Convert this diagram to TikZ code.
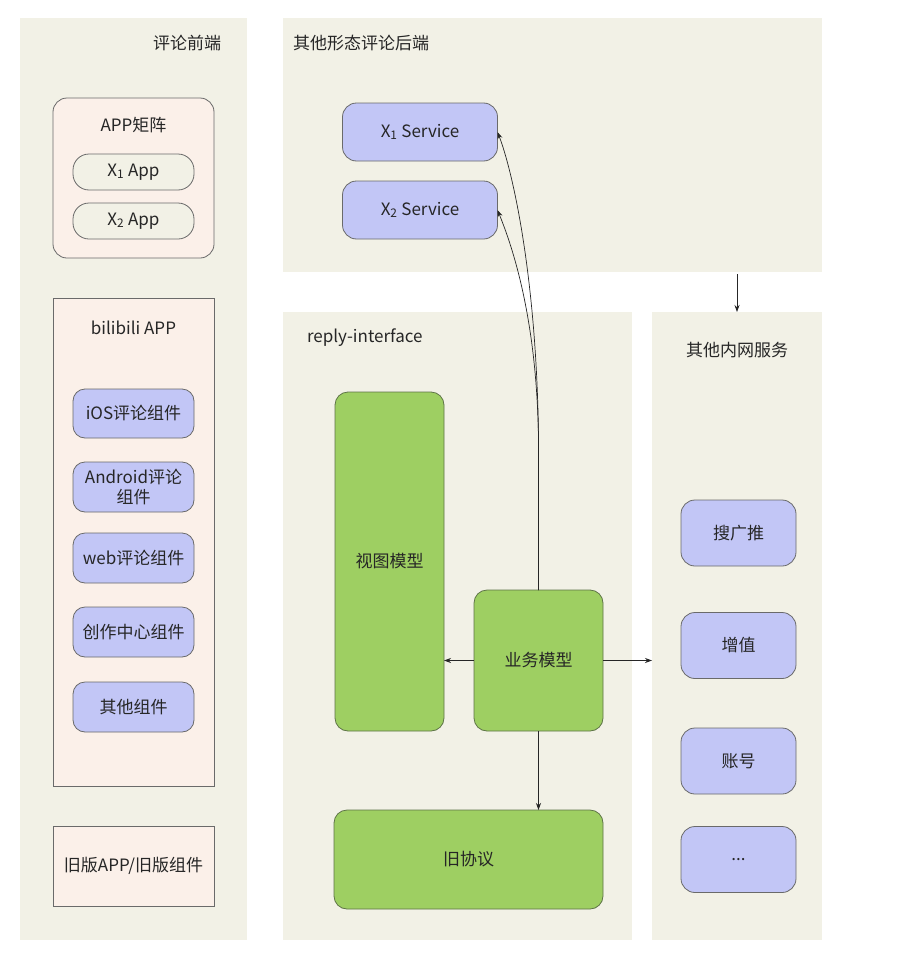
\documentclass[tikz,border=0pt]{standalone}
\usepackage{fontspec}
\setmainfont{Noto Sans CJK SC}
\usetikzlibrary{arrows.meta,calc}

\definecolor{panelbg}{HTML}{F2F1E6}
\definecolor{pinkbg}{HTML}{FBF0E9}
\definecolor{lav}{HTML}{C2C6F6}
\definecolor{grn}{HTML}{9ECF62}
\definecolor{edge}{HTML}{6A6A6A}
\definecolor{gedge}{HTML}{5E7447}
\definecolor{ink}{HTML}{262626}

\begin{document}
\begin{tikzpicture}[x=1pt,y=-1pt,
  every node/.style={text=ink, font=\fontsize{17}{21}\selectfont, inner sep=0pt, outer sep=0pt},
  panel/.style={fill=panelbg, draw=none, rectangle},
  group/.style={fill=pinkbg, draw=edge, line width=0.8pt, rectangle},
  pill/.style={fill=panelbg, draw=edge, line width=0.8pt, rounded corners=16pt,
               minimum width=121, minimum height=36},
  comp/.style={fill=lav, draw=edge, line width=0.8pt, rounded corners=12pt, align=center},
  mod/.style={fill=grn, draw=gedge, line width=0.8pt, rounded corners=13pt},
  link/.style={draw=ink, line width=0.7pt, -{Stealth[length=7pt,width=5pt]}}]

% canvas
\fill[white] (0,0) rectangle (910,953);
\useasboundingbox (0,0) rectangle (910,953);

% background panels
\node[panel, minimum width=227, minimum height=922] (lp) at (133.5,479) {};
\node[panel, minimum width=539, minimum height=254] (tp) at (552.5,145) {};
\node[panel, minimum width=349, minimum height=628] (ri) at (457.5,626) {};
\node[panel, minimum width=170, minimum height=628] (rp) at (737,626) {};

% panel titles
\node (tlp) at (187,43) {评论前端};
\node[anchor=west] (ttp) at (293,43) {其他形态评论后端};
\node[anchor=west] (tri) at (307,338) {reply-interface};
\node (trp) at (737,350) {其他内网服务};

% front end: APP matrix
\node[group, rounded corners=14pt, minimum width=161, minimum height=160] (appm) at (133.5,178) {};
\node (appmt) at (133.5,125) {APP矩阵};
\node[pill] (x1app) at (133.5,172) {X\textsubscript{1} App};
\node[pill] (x2app) at (133.5,221) {X\textsubscript{2} App};

% front end: bilibili APP
\node[group, minimum width=161, minimum height=488] (bili) at (133.5,542) {};
\node (bilit) at (133.5,328) {bilibili APP};
\node[comp, minimum width=121, minimum height=49] (ios) at (133.5,413.5) {iOS评论组件};
\node[comp, minimum width=121, minimum height=50, font=\fontsize{17}{20}\selectfont] (android) at (133.5,487) {Android评论\\组件};
\node[comp, minimum width=121, minimum height=50] (web) at (133.5,558) {web评论组件};
\node[comp, minimum width=121, minimum height=50] (creator) at (133.5,632) {创作中心组件};
\node[comp, minimum width=121, minimum height=50] (others) at (133.5,707) {其他组件};

% front end: legacy
\node[group, minimum width=161, minimum height=80] (legacy) at (133.5,866) {旧版APP/旧版组件};

% other comment back ends
\node[comp, minimum width=155, minimum height=58, rounded corners=14pt] (x1s) at (420,132) {X\textsubscript{1} Service};
\node[comp, minimum width=155, minimum height=58, rounded corners=14pt] (x2s) at (420,210) {X\textsubscript{2} Service};

% reply-interface models
\node[mod, minimum width=109, minimum height=339] (view) at (389.5,561.5) {视图模型};
\node[mod, minimum width=129, minimum height=141] (biz) at (538.5,660.5) {业务模型};
\node[mod, minimum width=269, minimum height=99] (old) at (468.5,859.5) {旧协议};

% internal services
\node[comp, minimum width=115, minimum height=66, rounded corners=14pt] (sgt) at (738.5,533) {搜广推};
\node[comp, minimum width=115, minimum height=66, rounded corners=14pt] (vas) at (738.5,645.5) {增值};
\node[comp, minimum width=115, minimum height=66, rounded corners=14pt] (acct) at (738.5,761) {账号};
\node[comp, minimum width=115, minimum height=66, rounded corners=14pt] (more) at (738.5,859.5) {...};

% connectors
\draw[link] (biz.west) -- (view.east |- biz.west);
\draw[link] (biz.south) -- (biz.south |- old.north);
\draw[link] (biz.east) -- (rp.west |- biz.east);
\draw[link] ($(tp.south -| rp.north)+(0,2)$) -- (rp.north);
\draw[link] (biz.north) -- ++(0,-150) .. controls (537,280) and (513,172) .. (x1s.east);
\draw[link] (biz.north) -- ++(0,-150) .. controls (537,320) and (513,248) .. (x2s.east);

\end{tikzpicture}
\end{document}
